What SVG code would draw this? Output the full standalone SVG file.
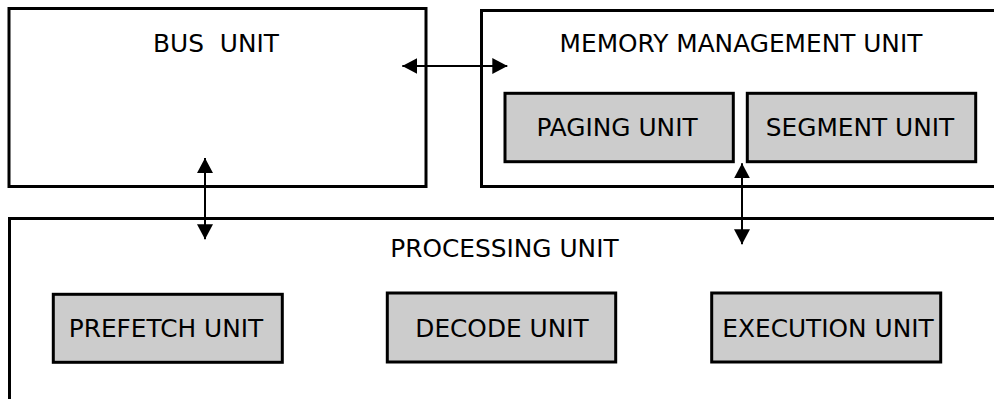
<svg xmlns="http://www.w3.org/2000/svg" width="994" height="399" viewBox="0 0 994 399">
  <style>
    .unit { fill: #ffffff; stroke: #000000; stroke-width: 3; }
    .sub { fill: #cccccc; stroke: #000000; stroke-width: 3; }
    .lbl { font-family: "DejaVu Sans", "Liberation Sans", sans-serif; font-size: 24.8px; fill: #000000; text-anchor: middle; white-space: pre; }
    .link { stroke: #000000; stroke-width: 2; fill: none; marker-start: url(#head); marker-end: url(#head); }
  </style>
  <defs>
    <marker id="head" viewBox="0 0 15 16" refX="15" refY="8" markerWidth="15" markerHeight="16" markerUnits="userSpaceOnUse" orient="auto-start-reverse">
      <path d="M0,0 L15,8 L0,16 Z" fill="#000000"/>
    </marker>
  </defs>

  <g id="bus-unit">
    <rect class="unit" x="9" y="8.5" width="417" height="178"/>
    <text class="lbl" x="216" y="52">BUS  UNIT</text>
  </g>

  <g id="memory-management-unit">
    <rect class="unit" x="481.5" y="10.5" width="520" height="176"/>
    <text class="lbl" x="741" y="52">MEMORY MANAGEMENT UNIT</text>
  </g>

  <g id="paging-unit">
    <rect class="sub" x="505" y="93.3" width="228.3" height="68.4"/>
    <text class="lbl" x="617" y="136">PAGING UNIT</text>
  </g>

  <g id="segment-unit">
    <rect class="sub" x="747.3" y="93.3" width="228.4" height="68.4"/>
    <text class="lbl" x="860" y="136">SEGMENT UNIT</text>
  </g>

  <g id="processing-unit">
    <rect class="unit" x="9.5" y="218.5" width="1000" height="200"/>
    <text class="lbl" x="504.5" y="257">PROCESSING UNIT</text>
  </g>

  <g id="prefetch-unit">
    <rect class="sub" x="53.3" y="294.3" width="229" height="68"/>
    <text class="lbl" x="166" y="337">PREFETCH UNIT</text>
  </g>

  <g id="decode-unit">
    <rect class="sub" x="387.3" y="293" width="228.4" height="69"/>
    <text class="lbl" x="502" y="337">DECODE UNIT</text>
  </g>

  <g id="execution-unit">
    <rect class="sub" x="711.7" y="293" width="229" height="69"/>
    <text class="lbl" x="828" y="337">EXECUTION UNIT</text>
  </g>

  <g id="connectors">
    <line class="link" x1="402.3" y1="66" x2="507.3" y2="66"/>
    <line class="link" x1="205" y1="158" x2="205" y2="239.3"/>
    <line class="link" x1="742" y1="163.3" x2="742" y2="244.3"/>
  </g>
</svg>
